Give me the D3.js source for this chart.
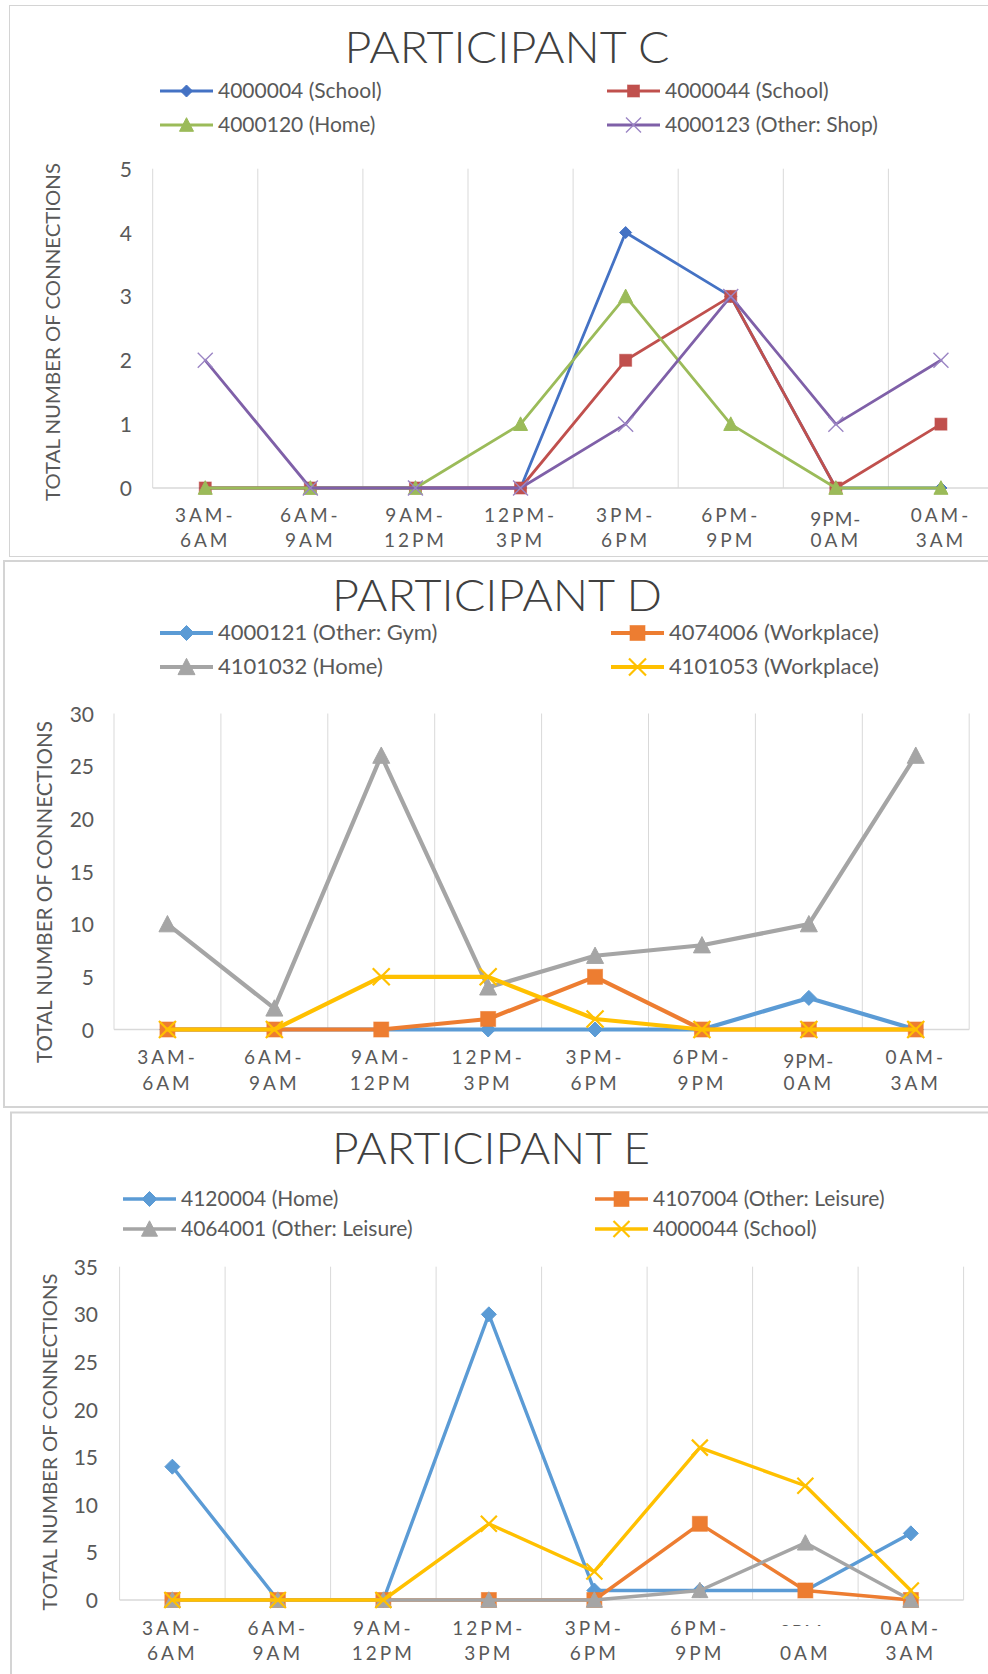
<!DOCTYPE html>
<html>
<head>
<meta charset="utf-8">
<script src="https://cdn.jsdelivr.net/npm/d3@7"></script>
<style>
  html, body { margin: 0; padding: 0; background: #ffffff; }
  svg { display: block; }
</style>
</head>
<body>
<svg id="chart" width="988" height="1674"></svg>
<script>
// ---- shared categories (three-hour time slots) ----
const slotTop = ["3AM-", "6AM-", "9AM-", "12PM-", "3PM-", "6PM-", "9PM-", "0AM-"];
const slotBottom = ["6AM", "9AM", "12PM", "3PM", "6PM", "9PM", "0AM", "3AM"];
const slots = slotTop.map((t, i) => t + slotBottom[i]);

// ---- Participant C ----
const namesC = ["4000004 (School)", "4000044 (School)", "4000120 (Home)", "4000123 (Other: Shop)"];
const valuesC4000004 = [0, 0, 0, 0, 4, 3, 0, 0];
const valuesC4000044 = [0, 0, 0, 0, 2, 3, 0, 1];
const valuesC4000120 = [0, 0, 0, 1, 3, 1, 0, 0];
const valuesC4000123 = [2, 0, 0, 0, 1, 3, 1, 2];
const ticksC = [0, 1, 2, 3, 4, 5];

// ---- Participant D ----
const namesD = ["4000121 (Other: Gym)", "4074006 (Workplace)", "4101032 (Home)", "4101053 (Workplace)"];
const valuesD4000121 = [0, 0, 0, 0, 0, 0, 3, 0];
const valuesD4074006 = [0, 0, 0, 1, 5, 0, 0, 0];
const valuesD4101032 = [10, 2, 26, 4, 7, 8, 10, 26];
const valuesD4101053 = [0, 0, 5, 5, 1, 0, 0, 0];
const ticksD = [0, 5, 10, 15, 20, 25, 30];

// ---- Participant E ----
const namesE = ["4120004 (Home)", "4107004 (Other: Leisure)", "4064001 (Other: Leisure)", "4000044 (School)"];
const valuesE4120004 = [14, 0, 0, 30, 1, 1, 1, 7];
const valuesE4107004 = [0, 0, 0, 0, 0, 8, 1, 0];
const valuesE4064001 = [0, 0, 0, 0, 0, 1, 6, 0];
const valuesE4000044 = [0, 0, 0, 8, 3, 16, 12, 1];
const ticksE = [0, 5, 10, 15, 20, 25, 30, 35];

const yTitle = "TOTAL NUMBER OF CONNECTIONS";
const FONT = "Lato, 'Open Sans', sans-serif";
const TEXT = "#595959";
const GRID = "#d9d9d9";

const svg = d3.select("#chart");

// marker painter: diamond, square, triangle, cross
function drawMarker(g, kind, cx, cy, s, color, sw) {
  if (kind === "diamond") {
    g.append("path")
      .attr("d", `M${cx},${cy - s}L${cx + s},${cy}L${cx},${cy + s}L${cx - s},${cy}Z`)
      .attr("fill", color).attr("stroke", color).attr("stroke-width", 1);
  } else if (kind === "square") {
    g.append("rect")
      .attr("x", cx - s / 2).attr("y", cy - s / 2).attr("width", s).attr("height", s)
      .attr("fill", color).attr("stroke", color).attr("stroke-opacity", 0.6).attr("stroke-width", 1);
  } else if (kind === "triangle") {
    const h = s * 0.9;
    g.append("path")
      .attr("d", `M${cx},${cy - h / 2 - 1}L${cx + s / 2},${cy + h / 2}L${cx - s / 2},${cy + h / 2}Z`)
      .attr("fill", color).attr("stroke", color).attr("stroke-width", 1);
  } else {
    const r = s / 2;
    g.append("path")
      .attr("d", `M${cx - r},${cy - r}L${cx + r},${cy + r}M${cx + r},${cy - r}L${cx - r},${cy + r}`)
      .attr("fill", "none").attr("stroke", color).attr("stroke-width", sw);
  }
}

function panel(cfg) {
  const g = svg.append("g");

  // frame
  g.append("rect")
    .attr("x", cfg.frame[0]).attr("y", cfg.frame[1])
    .attr("width", cfg.frame[2]).attr("height", cfg.frame[3])
    .attr("fill", "#fff").attr("stroke", "#d4d4d4").attr("stroke-width", cfg.frameW);

  // title
  g.append("text")
    .attr("x", cfg.titleX).attr("y", cfg.titleY)
    .attr("text-anchor", "middle")
    .attr("font-family", FONT).attr("font-size", cfg.titleSize)
    .attr("font-weight", 300)
    .attr("fill", "#404040")
    .attr("textLength", cfg.titleW).attr("lengthAdjust", "spacingAndGlyphs")
    .text(cfg.title);

  // legend (two columns, two rows)
  cfg.series.forEach((s, i) => {
    const col = i % 2, row = Math.floor(i / 2);
    const lx = cfg.legendX[col], ly = cfg.legendY[row];
    const lg = g.append("g");
    lg.append("line")
      .attr("x1", lx).attr("x2", lx + 53).attr("y1", ly).attr("y2", ly)
      .attr("stroke", s.color).attr("stroke-width", cfg.lineW);
    drawMarker(lg, s.marker, lx + 26.5, ly, s.size, s.markColor || s.color, s.xw || 1.5);
    lg.append("text")
      .attr("x", lx + 58).attr("y", ly + 7)
      .attr("font-family", FONT).attr("font-size", cfg.legendSize)
      .attr("fill", TEXT)
      .text(s.name);
  });

  // scales
  const x = d3.scaleBand().domain(slots).range([cfg.left, cfg.left + 8 * cfg.band]);
  const y = d3.scaleLinear().domain([0, d3.max(cfg.ticks)]).range([cfg.zero, cfg.top]);
  const cx = d => x(d) + x.bandwidth() / 2;

  // vertical gridlines at band edges
  const edges = d3.range(9).map(i => x.range()[0] + i * x.bandwidth());
  g.append("g").selectAll("line").data(edges).join("line")
    .attr("x1", d => d).attr("x2", d => d)
    .attr("y1", cfg.top).attr("y2", cfg.zero)
    .attr("stroke", GRID).attr("stroke-width", 1);

  // baseline
  g.append("line")
    .attr("x1", x.range()[0]).attr("x2", x.range()[1])
    .attr("y1", cfg.zero).attr("y2", cfg.zero)
    .attr("stroke", GRID).attr("stroke-width", 1.5);

  // y axis labels
  const yAxis = d3.axisLeft(y).tickValues(cfg.ticks).tickSize(0).tickPadding(0).tickFormat(d3.format("d"));
  const ya = g.append("g").attr("transform", `translate(${cfg.tickRight},0)`).call(yAxis);
  ya.select(".domain").remove();
  ya.selectAll("text")
    .attr("font-family", FONT).attr("font-size", cfg.tickSize)
    .attr("fill", TEXT).attr("dy", "0.36em");

  // y axis title
  g.append("text")
    .attr("transform", `translate(${cfg.yTitleX},${cfg.yTitleY}) rotate(-90)`)
    .attr("text-anchor", "middle")
    .attr("font-family", FONT).attr("font-size", cfg.yTitleSize)
    .attr("fill", TEXT)
    .attr("textLength", cfg.yTitleW).attr("lengthAdjust", "spacingAndGlyphs")
    .text(yTitle);

  // x axis labels (two lines per slot)
  const xAxis = d3.axisBottom(x).tickSize(0).tickFormat(() => "");
  const xa = g.append("g").attr("transform", `translate(0,${cfg.zero})`).call(xAxis);
  xa.select(".domain").remove();
  xa.selectAll(".tick").each(function (d, i) {
    const t = d3.select(this);
    const odd = i === 6;
    t.append("text")
      .attr("y", cfg.xl1 - cfg.zero + (odd ? 4 : 0))
      .attr("text-anchor", "middle")
      .attr("font-family", FONT).attr("font-size", cfg.xSize)
      .attr("letter-spacing", odd ? 1 : 3)
      .attr("fill", TEXT)
      .text(slotTop[i]);
    if (odd && cfg.maskNine) {
      t.append("rect")
        .attr("x", -40).attr("y", cfg.xl1 - cfg.zero - 9)
        .attr("width", 80).attr("height", 16).attr("fill", "#fff");
    }
    t.append("text")
      .attr("y", cfg.xl2 - cfg.zero)
      .attr("text-anchor", "middle")
      .attr("font-family", FONT).attr("font-size", cfg.xSize)
      .attr("letter-spacing", 3)
      .attr("fill", TEXT)
      .text(slotBottom[i]);
  });

  // series lines and markers
  const line = d3.line().x((d, i) => cx(slots[i])).y(d => y(d));
  cfg.series.forEach(s => {
    const sg = g.append("g");
    sg.append("path")
      .datum(s.values)
      .attr("d", line)
      .attr("fill", "none")
      .attr("stroke", s.color).attr("stroke-width", cfg.lineW)
      .attr("stroke-linejoin", "round").attr("stroke-linecap", "round");
    s.values.forEach((v, i) => drawMarker(sg, s.marker, cx(slots[i]), y(v), s.size, s.markColor || s.color, s.xw || 1.5));
  });
}

panel({
  frame: [9.5, 5.5, 1000, 551], frameW: 1,
  title: "PARTICIPANT C", titleX: 507, titleY: 63, titleSize: 44, titleW: 325,
  legendX: [160, 607], legendY: [91, 125], legendSize: 21,
  left: 152.7, band: 105.1, top: 168.7, zero: 488,
  ticks: ticksC, tickRight: 132, tickSize: 21,
  yTitleX: 60, yTitleY: 332, yTitleSize: 19, yTitleW: 338,
  xl1: 522, xl2: 547, xSize: 19,
  lineW: 2.8,
  series: [
    { name: namesC[0], values: valuesC4000004, color: "#4472C4", marker: "diamond", size: 6 },
    { name: namesC[1], values: valuesC4000044, color: "#C0504D", marker: "square", size: 12 },
    { name: namesC[2], values: valuesC4000120, color: "#9BBB59", marker: "triangle", size: 14 },
    { name: namesC[3], values: valuesC4000123, color: "#7F60A8", marker: "cross", size: 15, markColor: "#9B85C4", xw: 1.4 }
  ]
});

panel({
  frame: [4, 561, 1000, 546], frameW: 2,
  title: "PARTICIPANT D", titleX: 497, titleY: 611, titleSize: 44, titleW: 330,
  legendX: [160, 611], legendY: [633, 667], legendSize: 22,
  left: 114, band: 106.9, top: 713.5, zero: 1029.5,
  ticks: ticksD, tickRight: 94, tickSize: 21,
  yTitleX: 52, yTitleY: 892, yTitleSize: 21, yTitleW: 342,
  xl1: 1064, xl2: 1090, xSize: 19,
  lineW: 4.2,
  series: [
    { name: namesD[0], values: valuesD4000121, color: "#5B9BD5", marker: "diamond", size: 7.5 },
    { name: namesD[1], values: valuesD4074006, color: "#ED7D31", marker: "square", size: 15 },
    { name: namesD[2], values: valuesD4101032, color: "#A5A5A5", marker: "triangle", size: 17 },
    { name: namesD[3], values: valuesD4101053, color: "#FFC000", marker: "cross", size: 17, xw: 2.2 }
  ]
});

panel({
  frame: [11, 1112.5, 1000, 600], frameW: 2,
  title: "PARTICIPANT E", titleX: 491, titleY: 1164, titleSize: 44, titleW: 318,
  legendX: [123, 595], legendY: [1199, 1229], legendSize: 21,
  left: 119.6, band: 105.5, top: 1266.7, zero: 1600,
  ticks: ticksE, tickRight: 98, tickSize: 21,
  yTitleX: 57, yTitleY: 1442, yTitleSize: 20, yTitleW: 337,
  xl1: 1635, xl2: 1660, xSize: 19,
  lineW: 3.4, maskNine: true,
  series: [
    { name: namesE[0], values: valuesE4120004, color: "#5B9BD5", marker: "diamond", size: 7.5 },
    { name: namesE[1], values: valuesE4107004, color: "#ED7D31", marker: "square", size: 15 },
    { name: namesE[2], values: valuesE4064001, color: "#A5A5A5", marker: "triangle", size: 16 },
    { name: namesE[3], values: valuesE4000044, color: "#FFC000", marker: "cross", size: 16, xw: 2.2 }
  ]
});
</script>
</body>
</html>
